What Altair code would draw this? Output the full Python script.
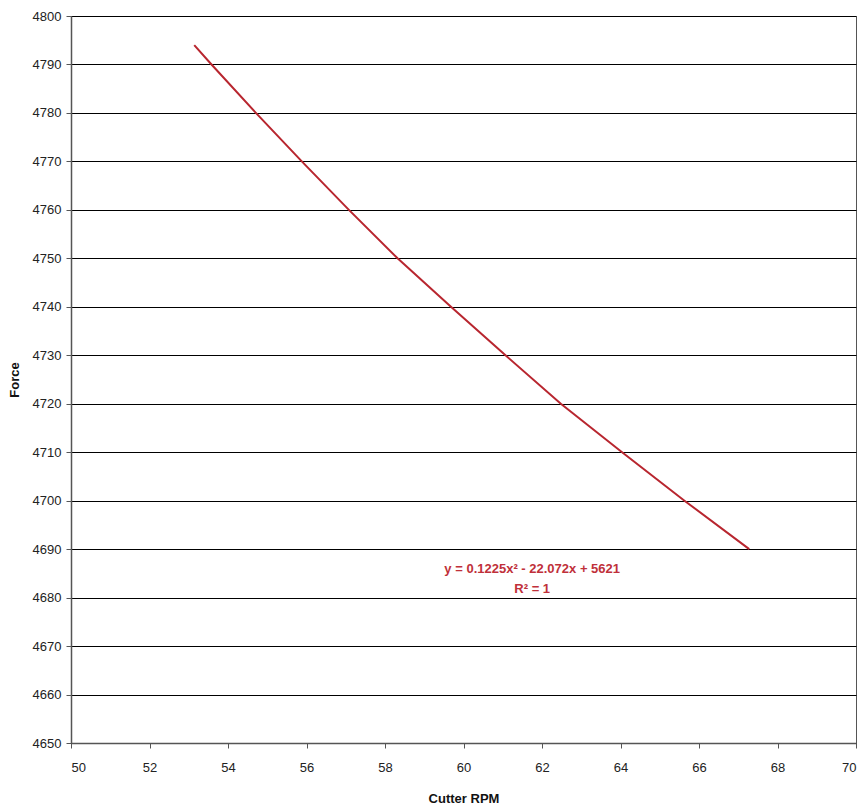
import altair as alt
import pandas as pd

# Values
rpm = [53.14, 53.58, 54.71, 55.88, 57.08, 58.32, 59.68, 61.07, 62.48, 64.04, 65.63, 67.28]
force = [4794, 4790, 4780, 4770, 4760, 4750, 4740, 4730, 4720, 4710, 4700, 4690]

x_ticks = [50, 52, 54, 56, 58, 60, 62, 64, 66, 68, 70]
y_ticks = [4650, 4660, 4670, 4680, 4690, 4700, 4710, 4720, 4730, 4740, 4750,
           4760, 4770, 4780, 4790, 4800]

eq_lines = ["y = 0.1225x² - 22.072x + 5621", "R² = 1"]
eq_x = [61.75, 61.75]
eq_y = [4685.9, 4681.7]

FONT = "Liberation Sans"
RED = "#b8262f"

df = pd.DataFrame({"rpm": rpm, "force": force})
ann = pd.DataFrame({"label": eq_lines, "x": eq_x, "y": eq_y})

xs = alt.Scale(domain=[50, 70], nice=False, zero=False)
ys = alt.Scale(domain=[4650, 4800], nice=False, zero=False)

line = alt.Chart(df).mark_line(color=RED, strokeWidth=2).encode(
    x=alt.X("rpm:Q", scale=xs, title="Cutter RPM",
            axis=alt.Axis(values=x_ticks, grid=False, format="d")),
    y=alt.Y("force:Q", scale=ys, title="Force",
            axis=alt.Axis(values=y_ticks, grid=True, format="d")),
)

text = alt.Chart(ann).mark_text(color="#c0303a", font=FONT, fontSize=13, fontWeight="bold").encode(
    x=alt.X("x:Q", scale=xs),
    y=alt.Y("y:Q", scale=ys),
    text="label:N",
)

chart = (line + text).properties(
    width=785, height=727, background="white",
    padding={"left": 0, "top": 2, "right": 0, "bottom": 0},
).configure_view(
    stroke="#555555", strokeWidth=1
).configure_axis(
    labelFont=FONT, titleFont=FONT, labelFontSize=13, titleFontSize=13,
    labelColor="#222222", titleColor="#111111", domainColor="#555555",
    tickColor="#555555", tickSize=5, gridColor="#000000", gridWidth=1,
    gridOpacity=1, domainWidth=1.5,
).configure_axisY(
    titlePadding=11, labelPadding=5, titleFontWeight="bold",
).configure_axisX(
    titlePadding=18, labelPadding=13, titleFontWeight="bold",
)

chart.save("out.html", embed_options={"renderer": "svg", "actions": False})
